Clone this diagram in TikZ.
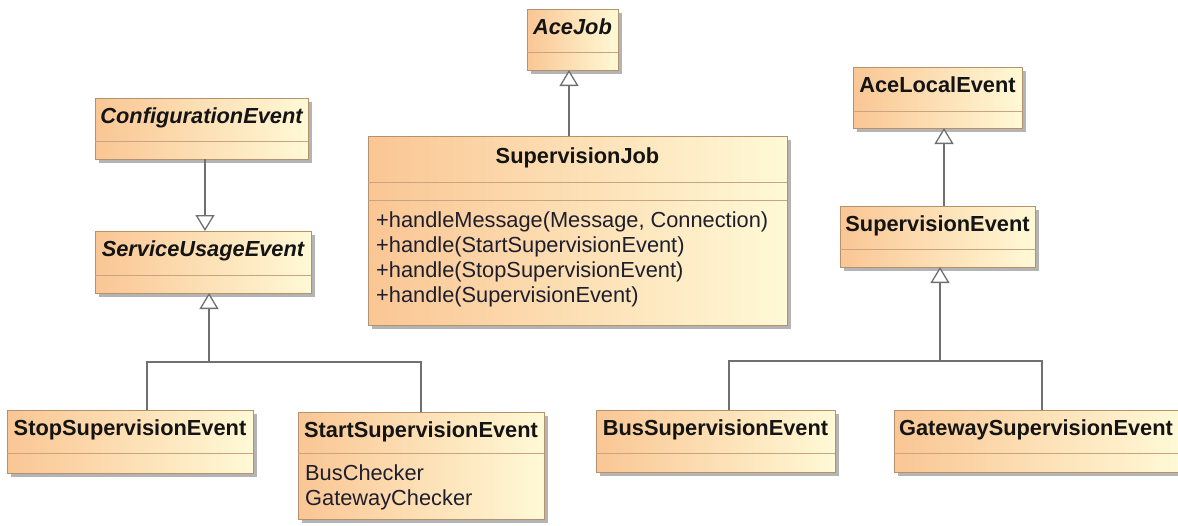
\documentclass[tikz,border=0pt]{standalone}
\usepackage{fontspec}
\setmainfont{Liberation Sans}
\usetikzlibrary{arrows.meta,shadows,calc}

\definecolor{clsL}{RGB}{250,198,148}
\definecolor{clsR}{RGB}{255,249,214}
\definecolor{clsBorder}{RGB}{180,146,110}
\definecolor{clsDiv}{RGB}{200,165,128}
\definecolor{connGray}{RGB}{112,112,112}
\definecolor{shadowGray}{RGB}{180,180,180}
\definecolor{memberInk}{RGB}{30,30,45}

\tikzset{
  classbox/.style={rectangle, inner sep=0pt, outer sep=0pt, draw=clsBorder,
    line width=1pt, left color=clsL, right color=clsR,
    drop shadow={shadow xshift=4pt, shadow yshift=-4pt, fill=shadowGray, opacity=1}},
  divider/.style={draw=clsDiv, line width=1pt},
  classname/.style={font=\fontsize{21.8}{25}\selectfont\bfseries, text=black!92,
    inner sep=0pt, anchor=base},
  abstractname/.style={classname, font=\fontsize{21.8}{25}\selectfont\bfseries\itshape},
  member/.style={font=\fontsize{21.8}{25}\selectfont, text=memberInk,
    inner sep=0pt, anchor=base west},
  link/.style={draw=connGray, line width=1.3pt},
  gen/.style={link, -{Triangle[open, length=16pt, width=19pt, fill=white, line width=1.3pt]}},
}

% class rectangle: name, left, top, right, bottom (pixels, y downwards)
\newcommand\classrect[5]{%
  \node[classbox, minimum width={(#4)-(#2)}, minimum height={(#5)-(#3)},
        anchor=north west] (#1) at (#2,#3) {};}
% horizontal compartment line across a class, given its y
\newcommand\compline[2]{%
  \draw[divider] (#1.west |- 0,#2) -- (#1.east |- 0,#2);}

\begin{document}
\begin{tikzpicture}[x=1pt,y=-1pt]
\useasboundingbox (0,0) rectangle (1178,525);

% ---------- middle column ----------
\classrect{acejob}{527}{9}{618}{70}
\compline{acejob}{52}
\node[abstractname] (acejobT) at (572.5,34) {AceJob};

\classrect{supjob}{368}{136}{787}{325}
\compline{supjob}{182}
\compline{supjob}{200}
\node[classname] (supjobT) at (577.5,163) {SupervisionJob};
\node[member] (m1) at (376,227) {+handleMessage(Message, Connection)};
\node[member] (m2) at (376,252) {+handle(StartSupervisionEvent)};
\node[member] (m3) at (376,277) {+handle(StopSupervisionEvent)};
\node[member] (m4) at (376,302) {+handle(SupervisionEvent)};

% ---------- left column ----------
\classrect{config}{95}{98}{308}{159}
\compline{config}{141}
\node[abstractname] (configT) at (201.5,123) {ConfigurationEvent};

\classrect{sue}{95}{231}{311}{293}
\compline{sue}{275}
\node[abstractname] (sueT) at (203,256) {ServiceUsageEvent};

\classrect{stop}{7}{410}{253}{473}
\compline{stop}{453}
\node[classname] (stopT) at (130,435) {StopSupervisionEvent};

\classrect{start}{298}{412}{544}{519}
\compline{start}{453}
\node[classname] (startT) at (421,437) {StartSupervisionEvent};
\node[member] (a1) at (305,480) {BusChecker};
\node[member] (a2) at (305,505) {GatewayChecker};

% ---------- right column ----------
\classrect{acelocal}{853}{67}{1022}{128}
\compline{acelocal}{111}
\node[classname] (acelocalT) at (937.5,92) {AceLocalEvent};

\classrect{supev}{840}{206}{1035}{267}
\compline{supev}{249}
\node[classname] (supevT) at (937.5,231) {SupervisionEvent};

\classrect{bus}{596}{410}{835}{472}
\compline{bus}{453}
\node[classname] (busT) at (715.5,435) {BusSupervisionEvent};

\classrect{gw}{894}{410}{1178}{472}
\compline{gw}{453}
\node[classname] (gwT) at (1036,435) {GatewaySupervisionEvent};

% ---------- generalization links ----------
\coordinate (jx) at (569,0);
\draw[gen] (supjob.north -| jx) -- (acejob.south -| jx);

\coordinate (cx) at (205,0);
\draw[gen] (config.south -| cx) -- (sue.north -| cx);

\coordinate (lstop) at (147,362);
\coordinate (lstart) at (421,362);
\coordinate (lmid) at (209,362);
\draw[link] (stop.north -| lstop) -- (lstop) -- (lstart) -- (start.north -| lstart);
\draw[gen] (lmid) -- (sue.south -| lmid);

\coordinate (ax) at (944,0);
\draw[gen] (supev.north -| ax) -- (acelocal.south -| ax);

\coordinate (rbus) at (729,361);
\coordinate (rgw) at (1042,361);
\coordinate (rmid) at (940,361);
\draw[link] (bus.north -| rbus) -- (rbus) -- (rgw) -- (gw.north -| rgw);
\draw[gen] (rmid) -- (supev.south -| rmid);

\end{tikzpicture}
\end{document}
